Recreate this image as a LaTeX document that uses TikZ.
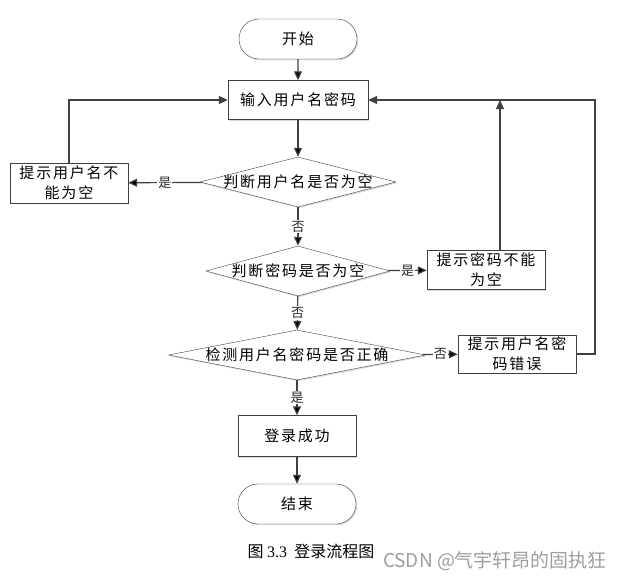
\documentclass[tikz,border=0pt]{standalone}
\usepackage{fontspec}
\usepackage{tikz}
\usetikzlibrary{shapes.geometric,shapes.misc,shadows,arrows.meta}
\setmainfont{Liberation Serif}
\newfontfamily\cjk[LetterSpace=12]{Noto Sans CJK SC}
\newfontfamily\cjklabel{Noto Sans CJK SC}
\definecolor{flowline}{rgb}{0.25,0.25,0.25}
\definecolor{flowmark}{rgb}{0.62,0.62,0.62}
\tikzstyle{flowshade}=[drop shadow={shadow xshift=1.2pt, shadow yshift=-1.2pt, fill=black, opacity=0.15}]
\tikzstyle{flowbox}=[rectangle, draw=flowline, fill=white, flowshade, minimum height=39pt, minimum width=118pt, align=center, inner sep=0pt, font=\cjk\fontsize{15}{20}\selectfont]
\tikzstyle{flowterm}=[rounded rectangle, draw=flowline, fill=white, flowshade, minimum height=40pt, minimum width=118pt, inner sep=0pt, font=\cjk\fontsize{15}{20}\selectfont]
\tikzstyle{flowtest}=[diamond, draw=flowline, fill=white, flowshade, minimum height=50pt, inner sep=0pt]
\tikzstyle{flowtext}=[inner sep=0pt, font=\cjk\fontsize{15}{20}\selectfont]
\tikzstyle{flowarrow}=[draw=flowline, line width=1.2pt, -{Triangle[length=9pt,width=8pt]}]
\tikzstyle{flowlabel}=[fill=white, inner sep=1pt, text=black!85, font=\cjklabel\fontsize{13}{13}\selectfont]
\newcommand{\flowbox}[4][]{
	\node[flowbox, #1] (#2) at (#3) {#4};}
\newcommand{\flowterm}[3]{
	\node[flowterm] (#1) at (#2) {#3};}
\newcommand{\flowtest}[4]{
	\node[flowtest, minimum width=#3] (#1) at (#2) {};
	\node[flowtext] (#1t) at (#2) {#4};}

\begin{document}
\begin{tikzpicture}[x=1pt, y=-1pt]
	\useasboundingbox (0,0) rectangle (621,579);

	\flowterm{start}{298,39}{开始}
	\flowbox[minimum width=140pt]{input}{298,100}{输入用户名密码}

	\flowtest{user}{298,182}{196pt}{判断用户名是否为空}
	\flowbox[minimum height=40pt]{tipuser}{69,183}{提示用户名不\\能为空}

	\flowtest{pwd}{298,271}{184pt}{判断密码是否为空}
	\flowbox{tippwd}{486,270}{提示密码不能\\为空}

	\flowtest{check}{297,355}{257pt}{检测用户名密码是否正确}
	\flowbox[minimum height=38pt]{tiperr}{517,354}{提示用户名密\\码错误}

	\flowbox[minimum height=41pt]{ok}{297,436}{登录成功}
	\flowterm{end}{297,504}{结束}

	\coordinate (up) at (500,100);
	\coordinate (rt) at (595,100);

	\path[flowarrow] (start) edge (input);
	\path[flowarrow] (input) edge (user);
	\path[flowarrow] (user) edge node[flowlabel] {是} (tipuser);
	\path[flowarrow] (user) edge node[flowlabel] {否} (pwd);
	\path[flowarrow] (pwd) edge node[flowlabel] {是} (tippwd);
	\path[flowarrow] (pwd) edge node[flowlabel] {否} (check);
	\path[flowarrow] (check) edge node[flowlabel] {否} (tiperr);
	\path[flowarrow] (check) edge node[flowlabel] {是} (ok);
	\path[flowarrow] (ok) edge (end);

	\draw[flowarrow] (tipuser) |- (input);
	\draw[flowarrow] (tippwd.north -| up) -- (up);
	\draw[flowarrow] (tiperr) -| (rt) -- (input);

	\node[font=\cjklabel\fontsize{16}{16}\selectfont] (title) at (311,551) {图 {\rmfamily 3.3}\ \ 登录流程图};
	\node[text=flowmark, font=\cjklabel\fontsize{19}{19}\selectfont] (mark) at (495,561) {CSDN @气宇轩昂的固执狂};
\end{tikzpicture}
\end{document}
